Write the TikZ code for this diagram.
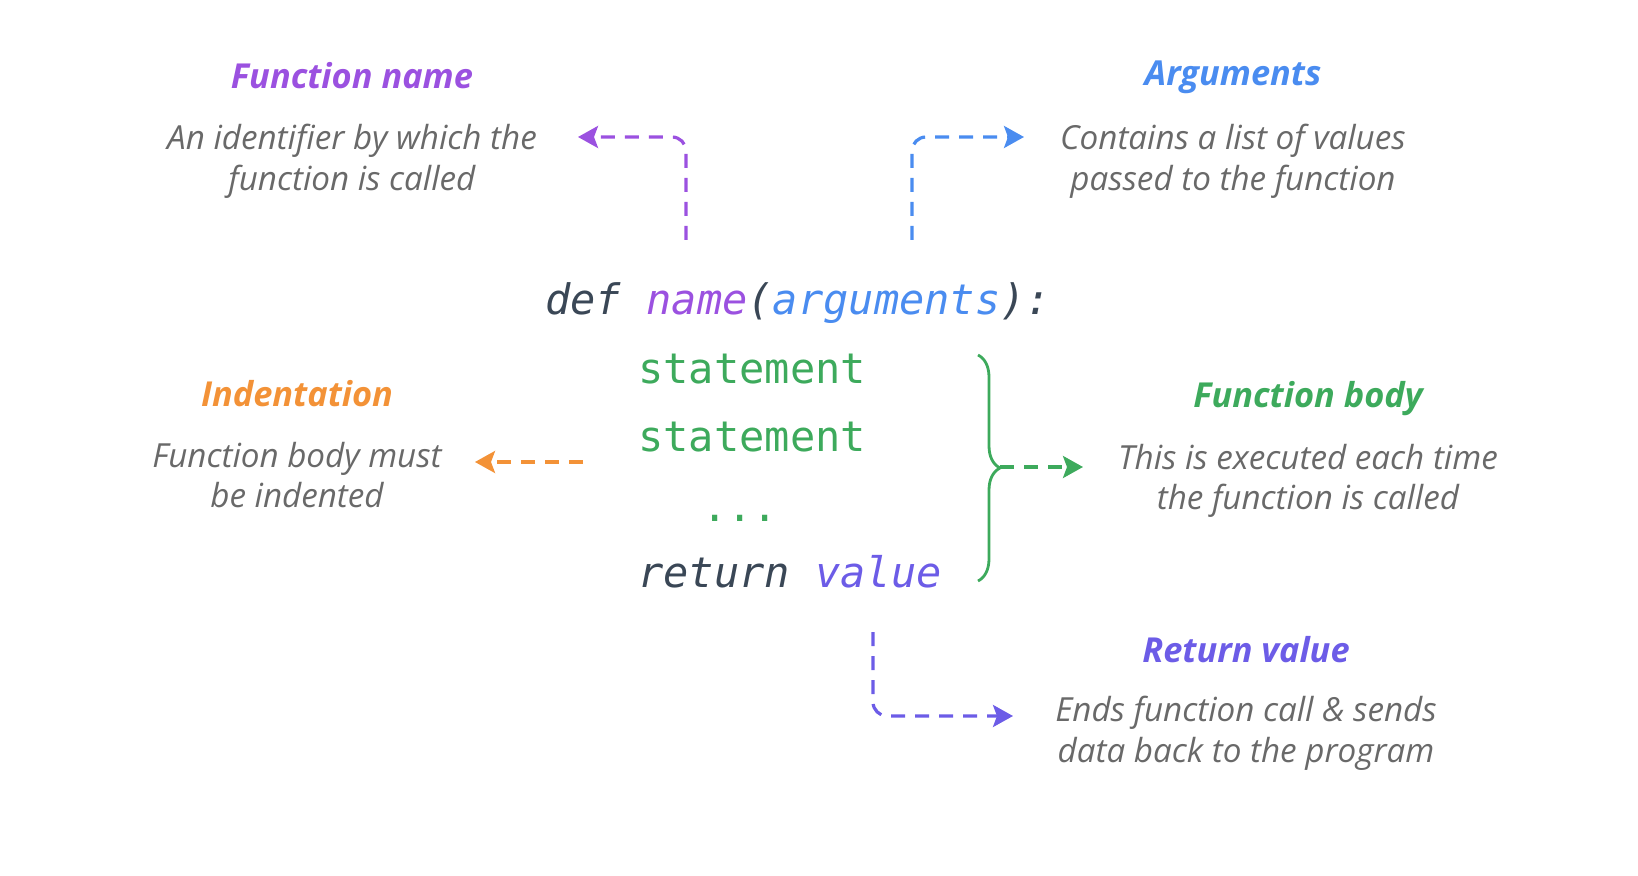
\documentclass[tikz,border=0pt]{standalone}
\usepackage{fontspec}
\setmainfont{Open Sans}
\newfontfamily\codefont{DejaVu Sans Mono}
\usetikzlibrary{arrows.meta,decorations.pathreplacing}
\definecolor{fnpurple}{HTML}{9B51E0}
\definecolor{argblue}{HTML}{4A8CF0}
\definecolor{indorange}{HTML}{F39237}
\definecolor{bodygreen}{HTML}{3DAA5C}
\definecolor{retviolet}{HTML}{6C5CE7}
\definecolor{descgray}{HTML}{696969}
\definecolor{codedark}{HTML}{3A4756}

\begin{document}
\begin{tikzpicture}[x=0.5pt, y=-0.5pt,
    title/.style={font=\fontsize{17.2}{20}\selectfont\bfseries\itshape},
    desc/.style={text=descgray, align=center, font=\fontsize{16.6}{20.3}\selectfont\itshape},
    code/.style={anchor=west, inner sep=0pt, text=codedark, font=\codefont\fontsize{21}{24}\selectfont},
    link/.style={line width=1.6pt, dash pattern=on 7pt off 5pt, rounded corners=7pt,
        -{Stealth[length=10pt, width=11pt, inset=2pt]}}]
    \useasboundingbox (0,0) rectangle (1638,876);
    \node[title, text=fnpurple] (fntitle) at (352,76) {Function name};
    \node[desc] (fndesc) at (352,161) {An identifier by which the\\function is called};
    \node[title, text=argblue] (argtitle) at (1233,77) {Arguments};
    \node[desc] (argdesc) at (1233,161) {Contains a list of values\\passed to the function};
    \node[title, text=indorange] (indtitle) at (297,394) {Indentation};
    \node[desc] (inddesc) at (297,475) {Function body must\\be indented};
    \node[title, text=bodygreen] (bodytitle) at (1308,399) {Function body};
    \node[desc] (bodydesc) at (1308,481) {This is executed each time\\the function is called};
    \node[title, text=retviolet] (rettitle) at (1246,650) {Return value};
    \node[desc] (retdesc) at (1246,733) {Ends function call \& sends\\data back to the program};
    \node[code] (defline) at (545,303) {\itshape def \textcolor{fnpurple}{name}(\textcolor{argblue}{arguments}):};
    \node[code, text=bodygreen] (stmta) at (638,369) {statement};
    \node[code, text=bodygreen] (stmtb) at (638,437) {statement};
    \node[code, text=bodygreen, anchor=center] (dots) at (740,518) {...};
    \node[code] (retline) at (638,572) {\itshape return \textcolor{retviolet}{value}};
    \coordinate (fnfrom) at (686,240);
    \coordinate (fnto) at (578,137);
    \coordinate (argfrom) at (912,240);
    \coordinate (argto) at (1024,137);
    \coordinate (indfrom) at (583,462);
    \coordinate (indto) at (475,462);
    \coordinate (bracetop) at (978,355);
    \coordinate (bracebot) at (978,581);
    \coordinate (bracetip) at (1000,467);
    \coordinate (bodyto) at (1083,467);
    \coordinate (retfrom) at (873,632);
    \coordinate (retto) at (1013,716);
    \draw[link, fnpurple] (fnfrom) |- (fnto);
    \draw[link, argblue] (argfrom) |- (argto);
    \draw[link, indorange] (indfrom) -- (indto);
    \draw[bodygreen, line width=1.4pt, decorate, decoration={brace, amplitude=11pt}] (bracetop) -- (bracebot);
    \draw[link, bodygreen] (bracetip) -- (bodyto);
    \draw[link, retviolet] (retfrom) |- (retto);
\end{tikzpicture}
\end{document}
